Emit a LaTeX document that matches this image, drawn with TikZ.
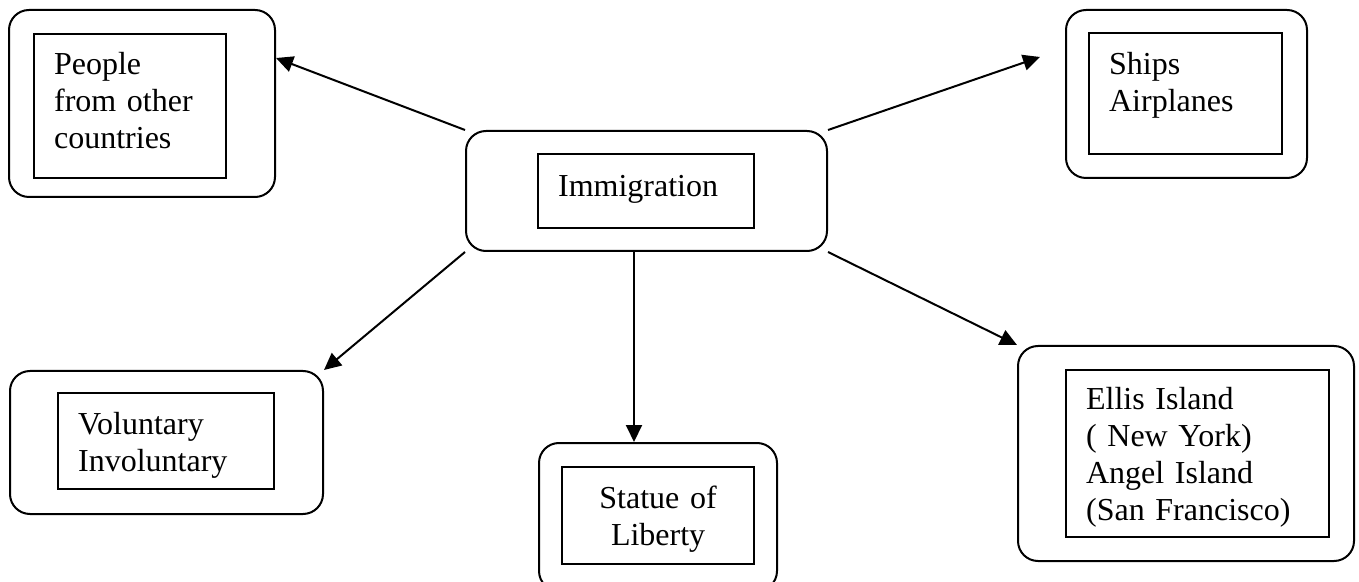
\documentclass[tikz,border=0pt]{standalone}
\usepackage{fontspec}
\setmainfont{Liberation Serif}
\usetikzlibrary{arrows.meta}

\begin{document}
\begin{tikzpicture}[
  x=0.5pt, y=-0.5pt,
  font=\fontsize{16}{18.6}\selectfont,
  frame/.style={draw, line width=1pt, rounded corners=10pt, anchor=north west,
    inner sep=0pt},
  label box/.style={draw, line width=1.1pt, anchor=north west, align=left,
    inner xsep=10pt, inner ysep=0pt, text height=20.5pt},
  arrow/.style={-{Triangle[length=8.5pt, width=8pt]}, line width=1pt}
]
\useasboundingbox (0,0) rectangle (1359,582);

% outer rounded frames
\node[frame, minimum width=133pt, minimum height=93.5pt] (people) at (8,9) {};
\node[frame, minimum width=180.5pt, minimum height=60pt] (immig) at (465,130) {};
\node[frame, minimum width=120.5pt, minimum height=84pt] (ships) at (1065,9) {};
\node[frame, minimum width=156.5pt, minimum height=71.5pt] (volun) at (9,370) {};
\node[frame, minimum width=119pt, minimum height=74pt] (statue) at (538,442) {};
\node[frame, minimum width=168pt, minimum height=107.5pt] (ellis) at (1017,345) {};

% inner boxes with the texts
\node[label box, text width=76pt, text height=20pt, text depth=52pt] (peopletxt) at (33,33)
  {People\\from other\\countries};
\node[label box, text width=88pt, text height=21pt, text depth=16pt] (immigtxt) at (537,153)
  {Immigration};
\node[label box, text width=76.5pt, text depth=40pt] (shipstxt) at (1088,32)
  {Ships\\Airplanes};
\node[label box, text width=88pt, text depth=27.5pt] (voluntxt) at (57,392)
  {Voluntary\\Involuntary};
\node[label box, align=center, text width=76pt, text depth=28pt] (statuetxt) at (561,466)
  {Statue of\\Liberty};
\node[label box, text width=111.5pt, text height=19.5pt, text depth=64pt] (ellistxt) at (1065,369)
  {Ellis Island\\( New York)\\Angel Island\\(San Francisco)};

\draw[arrow] (immig.north west) -- ([yshift=-24.5pt]people.north east);
\draw[arrow] (immig.north east) -- ([xshift=-12.5pt, yshift=-24pt]ships.north west);
\draw[arrow] (immig.south west) -- (volun.north east);
\draw[arrow] ([xshift=-6.25pt]immig.south) -- ([xshift=-6.25pt]immig.south |- statue.north);
\draw[arrow] (immig.south east) -- (ellis.north west);
\end{tikzpicture}
\end{document}
